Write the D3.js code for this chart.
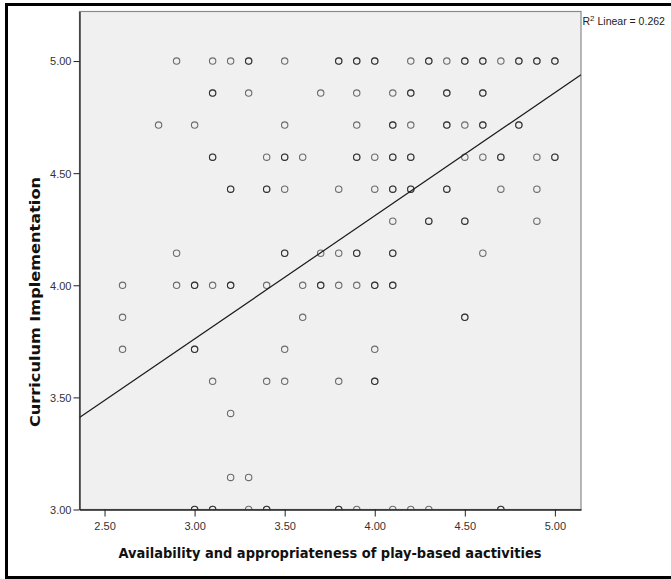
<!DOCTYPE html>
<html>
<head>
<meta charset="utf-8">
<script src="https://cdn.jsdelivr.net/npm/d3@7"></script>
<style>
	body { margin: 0; background: #fff; }
	svg { display: block; }
	text { font-family: "Liberation Sans", Arial, sans-serif; }
</style>
</head>
<body>
<div id="chart"></div>
<script>
// x values are at 0.1 steps, y values at 1/7 steps (scale means)
// one entry per respondent; repeated pairs draw darker rings
const yLevels = [5, 34 / 7, 33 / 7, 32 / 7, 31 / 7, 30 / 7, 29 / 7, 4, 27 / 7, 26 / 7, 25 / 7, 24 / 7, 22 / 7, 3];

const xByRow = [
	[2.9, 3.1, 3.2, 3.3, 3.3, 3.5, 3.8, 3.8, 3.9, 3.9, 4.0, 4.0, 4.2, 4.3, 4.3, 4.4, 4.5, 4.5, 4.6, 4.6, 4.7, 4.8, 4.8, 4.9, 4.9, 5.0, 5.0],
	[3.1, 3.1, 3.3, 3.7, 3.9, 4.1, 4.2, 4.2, 4.4, 4.4, 4.6, 4.6],
	[2.8, 3.0, 3.5, 3.9, 4.1, 4.1, 4.2, 4.4, 4.4, 4.5, 4.6, 4.6, 4.8, 4.8],
	[3.1, 3.1, 3.4, 3.5, 3.5, 3.6, 3.9, 3.9, 4.0, 4.1, 4.1, 4.2, 4.2, 4.5, 4.6, 4.7, 4.7, 4.9, 5.0, 5.0],
	[3.2, 3.2, 3.4, 3.4, 3.5, 3.8, 4.0, 4.1, 4.1, 4.2, 4.2, 4.4, 4.4, 4.7, 4.9],
	[4.1, 4.3, 4.3, 4.5, 4.5, 4.9],
	[2.9, 3.5, 3.5, 3.7, 3.8, 3.9, 3.9, 4.1, 4.1, 4.6],
	[2.6, 2.9, 3.0, 3.0, 3.1, 3.2, 3.2, 3.4, 3.6, 3.7, 3.7, 3.8, 3.9, 4.0, 4.0, 4.1, 4.1],
	[2.6, 3.6, 4.5, 4.5],
	[2.6, 3.0, 3.0, 3.5, 4.0],
	[3.1, 3.4, 3.5, 3.8, 4.0, 4.0],
	[3.2],
	[3.2, 3.3],
	[3.0, 3.0, 3.1, 3.1, 3.3, 3.4, 3.4, 3.8, 3.8, 3.9, 4.1, 4.2, 4.3, 4.7, 4.7]
];

const xTicks = [2.5, 3.0, 3.5, 4.0, 4.5, 5.0];
const yTicks = [3.0, 3.5, 4.0, 4.5, 5.0];

// linear fit as reported by SPSS
const fitIntercept = 2.114;
const fitSlope = 0.549;
const rSquared = 0.262;

const xTitle = 'Availability and appropriateness of play-based aactivities';
const yTitle = 'Curriculum Implementation';

const points = [];
xByRow.forEach((row, i) => row.forEach((xv) => points.push({ x: xv, y: yLevels[i] })));

const width = 671, height = 579;
const plot = { left: 79.5, top: 11.5, right: 581, bottom: 509.5 };

const x = d3.scaleLinear().domain([2.361, 5.145]).range([plot.left, plot.right]);
const y = d3.scaleLinear().domain([3.0, 5.221]).range([plot.bottom, plot.top]);

const svg = d3.select('#chart')
	.append('svg')
		.attr('width', width)
		.attr('height', height);

// outer frame (left, top, bottom)
svg.append('path')
	.attr('d', 'M671,4.5 H6.5 V577.5 H671')
	.attr('fill', 'none')
	.attr('stroke', '#000')
	.attr('stroke-width', 3);

svg.append('rect')
	.attr('x', plot.left)
	.attr('y', plot.top)
	.attr('width', plot.right - plot.left)
	.attr('height', plot.bottom - plot.top)
	.attr('fill', '#f0f0f0')
	.attr('stroke', '#8a8a8a')
	.attr('stroke-width', 1.2);

svg.append('clipPath')
	.attr('id', 'clip')
	.append('rect')
		.attr('x', plot.left)
		.attr('y', plot.top)
		.attr('width', plot.right - plot.left)
		.attr('height', plot.bottom - plot.top);

svg.append('g')
	.attr('clip-path', 'url(#clip)')
	.selectAll('circle')
	.data(points)
	.join('circle')
		.attr('cx', (d) => x(d.x))
		.attr('cy', (d) => y(d.y))
		.attr('r', 3.2)
		.attr('fill', 'none')
		.attr('stroke', '#000')
		.attr('stroke-opacity', 0.55)
		.attr('stroke-width', 1.1);

// fit line across the whole x range
const xd = x.domain();
svg.append('line')
	.attr('clip-path', 'url(#clip)')
	.attr('x1', x(xd[0]))
	.attr('y1', y(fitIntercept + fitSlope * xd[0]))
	.attr('x2', x(xd[1]))
	.attr('y2', y(fitIntercept + fitSlope * xd[1]))
	.attr('stroke', '#1a1a1a')
	.attr('stroke-width', 1.2);

let xAxis = d3.axisBottom(x)
	.tickValues(xTicks)
	.tickFormat(d3.format('.2f'))
	.tickSize(7)
	.tickSizeOuter(0);

let yAxis = d3.axisLeft(y)
	.tickValues(yTicks)
	.tickFormat(d3.format('.2f'))
	.tickSize(6)
	.tickSizeOuter(0);

let gx = svg.append('g')
	.attr('transform', 'translate(0,' + plot.bottom + ')')
	.call(xAxis);
let gy = svg.append('g')
	.attr('transform', 'translate(' + plot.left + ',0)')
	.call(yAxis);

[gx, gy].forEach((g) => {
	g.select('.domain').attr('stroke', '#222').attr('stroke-width', 1.3);
	g.selectAll('.tick line').attr('stroke', '#222');
	g.selectAll('.tick text')
		.attr('fill', '#333')
		.style('font-size', '11px')
		.style('font-family', '"Liberation Sans", Arial, sans-serif');
});
gx.selectAll('.tick text').attr('dy', null).attr('y', 20.5);
gy.selectAll('.tick text').attr('x', -8).attr('dy', '0.35em');

svg.append('text')
	.attr('x', 330)
	.attr('y', 558)
	.attr('text-anchor', 'middle')
	.attr('textLength', 423)
	.attr('lengthAdjust', 'spacingAndGlyphs')
	.style('font-family', '"DejaVu Sans", sans-serif')
	.style('font-weight', 'bold')
	.style('font-size', '14.5px')
	.attr('fill', '#111')
	.text(xTitle);

svg.append('text')
	.attr('transform', 'translate(40,302) rotate(-90)')
	.attr('text-anchor', 'middle')
	.attr('textLength', 250)
	.attr('lengthAdjust', 'spacingAndGlyphs')
	.style('font-family', '"DejaVu Sans", sans-serif')
	.style('font-weight', 'bold')
	.style('font-size', '14.5px')
	.attr('fill', '#111')
	.text(yTitle);

let r2 = svg.append('text')
	.attr('x', 582.5)
	.attr('y', 25)
	.attr('fill', '#222')
	.style('font-size', '10.5px');
r2.append('tspan').text('R');
r2.append('tspan').attr('dy', -4).style('font-size', '8px').text('2');
r2.append('tspan').attr('dy', 4).text(' Linear = ' + rSquared.toFixed(3));
</script>
</body>
</html>
